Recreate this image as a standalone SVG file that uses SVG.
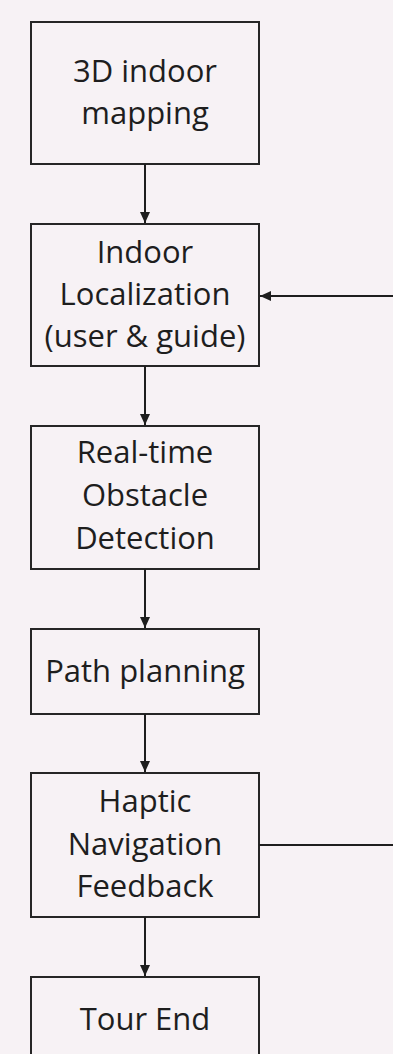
<svg xmlns="http://www.w3.org/2000/svg" width="393" height="1054" viewBox="0 0 393 1054">
<defs>
<style>
.box{fill:none;stroke:#262626;stroke-width:2}
.lbl{font-family:"Open Sans","Liberation Sans",sans-serif;font-size:31px;fill:#1e1e1e;text-anchor:middle}
.con{stroke:#1e1e1e;stroke-width:2;fill:none}
</style>
<marker id="ah" viewBox="0 0 11 10" refX="11" refY="5" markerWidth="11" markerHeight="10" markerUnits="userSpaceOnUse" orient="auto">
<path d="M0,0 L11,5 L0,10 Z" fill="#1e1e1e"/>
</marker>
</defs>
<rect width="393" height="1054" fill="#f7f2f5"/>
<g id="n1"><rect class="box" x="31" y="22" width="228" height="142"/>
<text class="lbl" x="145" y="82">3D indoor</text><text class="lbl" x="145" y="124">mapping</text></g>
<g id="n2"><rect class="box" x="31" y="224" width="228" height="142"/>
<text class="lbl" x="145" y="263">Indoor</text><text class="lbl" x="145" y="305">Localization</text><text class="lbl" x="145" y="347">(user &amp; guide)</text></g>
<g id="n3"><rect class="box" x="31" y="426" width="228" height="143"/>
<text class="lbl" x="145" y="463">Real-time</text><text class="lbl" x="145" y="506">Obstacle</text><text class="lbl" x="145" y="549">Detection</text></g>
<g id="n4"><rect class="box" x="31" y="629" width="228" height="85"/>
<text class="lbl" x="145" y="682">Path planning</text></g>
<g id="n5"><rect class="box" x="31" y="773" width="228" height="144"/>
<text class="lbl" x="145" y="812">Haptic</text><text class="lbl" x="145" y="855">Navigation</text><text class="lbl" x="145" y="897">Feedback</text></g>
<g id="n6"><rect class="box" x="31" y="977" width="228" height="100"/>
<text class="lbl" x="145" y="1030">Tour End</text></g>
<g id="connectors">
<line class="con" x1="145" y1="164" x2="145" y2="223" marker-end="url(#ah)"/>
<line class="con" x1="145" y1="366" x2="145" y2="425" marker-end="url(#ah)"/>
<line class="con" x1="145" y1="569" x2="145" y2="628" marker-end="url(#ah)"/>
<line class="con" x1="145" y1="714" x2="145" y2="772" marker-end="url(#ah)"/>
<line class="con" x1="145" y1="917" x2="145" y2="976" marker-end="url(#ah)"/>
<line class="con" x1="259" y1="845" x2="394" y2="845"/>
<line class="con" x1="394" y1="296" x2="260" y2="296" marker-end="url(#ah)"/>
</g>
</svg>
